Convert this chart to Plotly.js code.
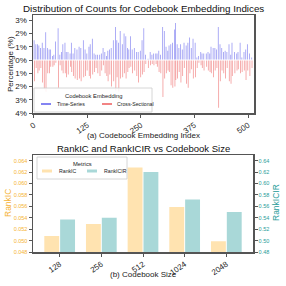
<!DOCTYPE html>
<html>
<head>
<meta charset="utf-8">
<script src="https://cdn.plot.ly/plotly-3.0.1.min.js"></script>
<style>html,body{margin:0;padding:0;background:#fff;}#chart{width:286px;height:286px;}</style>
</head>
<body>
<div id="chart"></div>
<script>
// ---- Data: (a) codebook embedding index distribution ----
const embIndex = [1,5,9,12,16,20,24,28,32,36,39,44,47,51,57,61,65,68,73,76,80,85,88,92,96,101,106,110,116,120,124,129,132,137,141,145,149,154,158,162,166,170,173,177,181,186,191,194,198,202,207,211,215,219,222,226,230,235,240,244,249,253,257,261,267,272,276,280,285,288,292,296,301,305,309,313,316,320,324,329,331,335,339,343,347,351,356,360,364,368,372,377,381,385,390,393,397,403,407,411,414,419,423,427,431,435,439,443,447,451,456,460,463,469,474,477,482,486,491,495,499,504,509];
const timeSeriesPct = [1.5,1.2,1.2,1.1,0.9,1.3,0.9,2.1,0.9,0.8,0.8,0.3,0.4,1.4,2.4,0.4,0.6,1.2,1.3,0.6,0.6,0.5,1.3,0.5,0.9,0.8,1.0,0.9,1.5,0.8,0.5,1.0,1.2,1.6,0.5,0.4,0.4,0.4,0.5,0.9,0.6,0.3,0.7,0.8,0.9,1.5,2.5,1.5,1.3,2.2,1.2,2.0,1.8,0.9,0.8,1.8,0.8,0.9,0.6,0.6,0.7,1.5,2.4,0.4,0.1,0.6,0.4,0.5,0.5,0.5,0.7,0.4,2.5,2.2,1.0,0.7,1.1,1.2,1.3,2.3,2.8,1.2,0.9,1.2,0.8,1.3,1.1,1.3,1.7,0.9,1.6,1.3,0.2,0.3,0.6,0.5,0.5,0.5,0.6,0.5,1.0,0.9,0.9,0.8,2.5,1.2,0.9,0.6,0.7,0.6,1.2,0.4,1.3,0.6,0.5,0.6,1.3,0.2,0.6,0.8,1.2,0.5,0.2];
const crossSectionalPct = [1.6,0.6,1.0,0.8,0.6,1.7,2.2,2.4,1.0,1.0,0.5,0.5,0.4,0.2,2.1,0.4,0.8,1.0,1.0,1.3,1.1,0.5,0.9,1.2,1.4,1.5,1.4,1.6,1.3,1.2,0.8,1.2,1.4,1.1,0.9,0.6,1.0,1.2,0.8,0.4,1.0,1.2,1.6,1.1,2.0,1.6,2.3,1.3,2.4,1.4,1.3,1.0,1.4,0.9,0.6,0.5,1.0,0.8,1.2,1.7,1.3,1.1,0.9,0.3,0.6,0.4,0.3,0.4,0.3,0.5,0.9,1.0,2.8,1.4,1.0,0.8,0.9,1.9,2.1,2.0,1.5,1.4,0.9,1.7,1.2,0.6,1.8,2.1,1.0,0.7,1.4,1.3,0.6,0.2,0.4,0.6,0.8,0.5,0.8,0.9,1.0,1.3,0.8,0.6,3.6,1.6,0.8,1.0,1.4,0.6,1.6,1.8,1.2,1.0,0.8,0.7,1.0,0.9,0.8,1.5,0.8,1.2,0.6];
const pctTickVals = [3,2,1,0,-1,-2,-3,-4];
const pctTickText = ['3%','2%','1%','0%','1%','2%','3%','4%'];
const embTickVals = [0,125,250,375,500];
const embLegend = ['Time-Series','Cross-Sectional'];

// ---- Data: (b) RankIC / RankICIR vs codebook size ----
const codebookSizes = ['128','256','512','1024','2048'];
const rankIC = [0.0508,0.0529,0.0628,0.0559,0.0499];
const rankICIR = [0.537,0.540,0.620,0.572,0.550];
const rankICTicks = [0.048,0.050,0.052,0.054,0.056,0.058,0.060,0.062,0.064];
const rankICIRTicks = [0.48,0.50,0.52,0.54,0.56,0.58,0.60,0.62,0.64];
const metricNames = ['RankIC','RankICIR'];

const FONT = 'Liberation Sans, Arial, sans-serif';
const BLUE = 'rgba(80,80,235,0.55)';
const RED = 'rgba(235,80,80,0.55)';
const ORANGE_FILL = '#FFE3B0';
const TEAL_FILL = '#A9D8D8';
const ORANGE_TXT = '#F5B335';
const TEAL_TXT = '#2A9D9A';
const SPINE = '#555555';
const W = 286, H = 286;
const PX = p => p / W;          // pixel -> paper x
const PY = p => 1 - p / H;      // pixel -> paper y

const traces = [
  {type:'bar', x: embIndex, y: timeSeriesPct, width: 2, marker:{color: BLUE, line:{width:0}},
   xaxis:'x', yaxis:'y', name: embLegend[0]},
  {type:'bar', x: embIndex, y: crossSectionalPct.map(v => -v), width: 2, marker:{color: RED, line:{width:0}},
   xaxis:'x', yaxis:'y', name: embLegend[1]},
  {type:'bar', x: codebookSizes, y: rankIC, xaxis:'x2', yaxis:'y2', name: metricNames[0],
   marker:{color: ORANGE_FILL}, offsetgroup:'1'},
  {type:'bar', x: codebookSizes, y: rankICIR, xaxis:'x2', yaxis:'y3', name: metricNames[1],
   marker:{color: TEAL_FILL}, offsetgroup:'2'}
];

const axisBase = {showline:true, linecolor:SPINE, linewidth:1.5, showgrid:false, zeroline:false,
  ticks:'outside', ticklen:3, tickcolor:SPINE, automargin:false};

function legendBox(x0, y0, x1, y1) {
  return {type:'rect', xref:'paper', yref:'paper', x0:PX(x0), x1:PX(x1), y0:PY(y1), y1:PY(y0),
    line:{color:'#cccccc', width:0.8}, fillcolor:'rgba(255,255,255,0.85)', layer:'above'};
}
function swatch(x0, x1, yc, h, color) {
  return {type:'rect', xref:'paper', yref:'paper', x0:PX(x0), x1:PX(x1), y0:PY(yc + h/2), y1:PY(yc - h/2),
    line:{width:0}, fillcolor:color, layer:'above'};
}
function label(text, x, y, size, opts) {
  return Object.assign({text:text, xref:'paper', yref:'paper', x:PX(x), y:PY(y), showarrow:false,
    xanchor:'center', yanchor:'middle', font:{size:size, family:FONT, color:'#222'}}, opts || {});
}

const layout = {
  width:W, height:H,
  margin:{l:0, r:0, t:0, b:0},
  paper_bgcolor:'#fff', plot_bgcolor:'#fff',
  font:{family:FONT, color:'#222'},
  barmode:'group', bargap:0.24, bargroupgap:0.06,
  showlegend:false,
  xaxis: Object.assign({}, axisBase, {domain:[PX(33), PX(254)], anchor:'y', mirror:true, range:[-2,514],
    tickvals: embTickVals, tickangle:-35, tickfont:{size:8, family:FONT}}),
  yaxis: Object.assign({}, axisBase, {domain:[PY(113), PY(15)], anchor:'x', mirror:true, range:[-4,3.4],
    tickvals: pctTickVals, ticktext: pctTickText, tickfont:{size:8, family:FONT}}),
  xaxis2: Object.assign({}, axisBase, {domain:[PX(33), PX(253)], anchor:'y2', mirror:true, type:'category',
    range:[-0.64,4.64], tickangle:-35, tickfont:{size:8, family:FONT}}),
  yaxis2: Object.assign({}, axisBase, {domain:[PY(252), PY(155)], anchor:'x2', range:[0.048,0.065],
    tickvals: rankICTicks, tickformat:'.3f', tickfont:{size:5.5, color:ORANGE_TXT, family:FONT}}),
  yaxis3: Object.assign({}, axisBase, {overlaying:'y2', side:'right', anchor:'x2', range:[0.48,0.65],
    tickvals: rankICIRTicks, tickformat:'.2f', tickfont:{size:5.5, color:TEAL_TXT, family:FONT}}),
  shapes:[
    {type:'line', xref:'x', yref:'y', x0:-2, x1:514, y0:0, y1:0, line:{color:'#fff', width:1}},
    legendBox(34, 88, 152, 112),
    swatch(41, 51, 104, 2, 'rgba(110,110,240,0.85)'),
    swatch(102, 112, 104, 2, 'rgba(240,110,110,0.85)'),
    legendBox(37, 157, 127, 179),
    swatch(42, 52, 171, 3, ORANGE_FILL),
    swatch(87, 97, 171, 3, TEAL_FILL)
  ],
  annotations:[
    label('Distribution of Counts for Codebook Embedding Indices', 143, 9, 9.8, {font:{size:9.8, family:FONT, color:'#111'}}),
    label('(a) Codebook Embedding Index', 143, 135, 8),
    label('Percentage (%)', 11, 64, 8, {textangle:-90}),
    label('Codebook Embedding', 94, 96, 5.8),
    label(embLegend[0], 55, 104, 5.2, {xanchor:'left'}),
    label(embLegend[1], 115, 104, 5.2, {xanchor:'left'}),
    label('RankIC and RankICIR vs Codebook Size', 143, 148, 9.5, {font:{size:9.5, family:FONT, color:'#111'}}),
    label('(b) Codebook Size', 143, 274, 8),
    label('RankIC', 8, 203, 8.5, {textangle:-90, font:{size:8.5, family:FONT, color:ORANGE_TXT}}),
    label('RankICIR', 276, 203, 8.5, {textangle:-90, font:{size:8.5, family:FONT, color:TEAL_TXT}}),
    label('Metrics', 82, 164, 5.8),
    label(metricNames[0], 57, 171, 5.2, {xanchor:'left'}),
    label(metricNames[1], 102, 171, 5.2, {xanchor:'left'})
  ]
};

Plotly.newPlot('chart', traces, layout, {displayModeBar:false, staticPlot:true});
</script>
</body>
</html>
